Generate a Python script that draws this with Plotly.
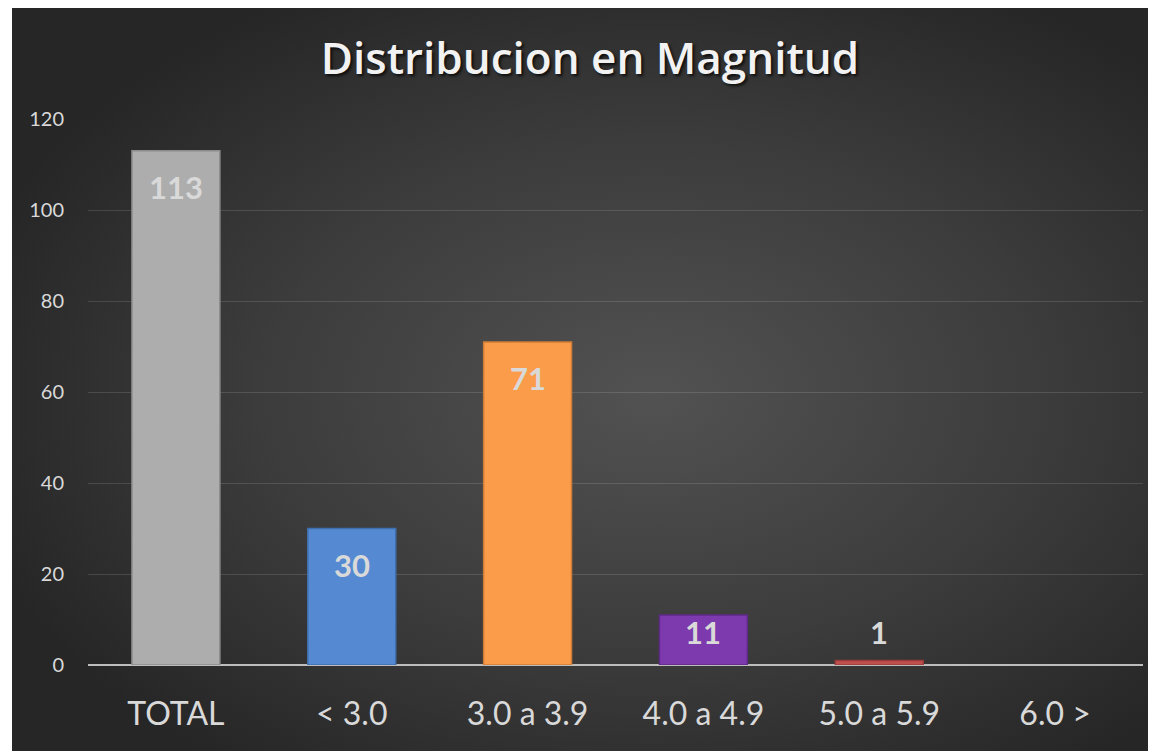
import base64
import plotly.graph_objects as go

# ---- data ----
categories = ["TOTAL", "< 3.0", "3.0 a 3.9", "4.0 a 4.9", "5.0 a 5.9", "6.0 >"]
values = [113, 30, 71, 11, 1, 0]
bar_colors = ["#adadad", "#558ad2", "#fb9c4b", "#7d3aae", "#c0504d", "#9bbb59"]
line_colors = ["#8c8c8c", "#3f6fae", "#d07c34", "#5f2a88", "#9a3b39", "#7c9846"]
y_ticks = [0, 20, 40, 60, 80, 100, 120]
title_text = "Distribucion en Magnitud"

# page has an 8px body margin; figure is sized/offset to compensate
W, H = 1148, 743
L, R, T, B = 80, 13, 111, 86
pw, ph = W - L - R, H - T - B

# background panel (radial gradient)
bx0, by0 = 4, 0
svg = f'''<svg xmlns="http://www.w3.org/2000/svg" width="{W-bx0}" height="{H-by0}" viewBox="0 0 {W-bx0} {H-by0}" preserveAspectRatio="none">
<defs><radialGradient id="g" cx="0.56" cy="0.52" r="0.62" gradientUnits="objectBoundingBox">
<stop offset="0" stop-color="#525252"/><stop offset="0.55" stop-color="#3c3c3c"/><stop offset="1" stop-color="#262626"/>
</radialGradient></defs>
<rect x="0" y="0" width="{W-bx0}" height="{H-by0}" fill="url(#g)"/></svg>'''
src = "data:image/svg+xml;base64," + base64.b64encode(svg.encode()).decode()

fig = go.Figure()
fig.add_trace(go.Bar(
    x=categories, y=values, width=0.5,
    marker=dict(color=bar_colors,
                line=dict(color=line_colors, width=[1.5 if v > 0 else 0 for v in values])),
    hoverinfo="x+y", showlegend=False,
))

label_floor = 15.2
for c, v in zip(categories, values):
    if v <= 0:
        continue
    fig.add_annotation(
        x=c, y=max(v, label_floor), yshift=-36, text=f"<b>{v}</b>",
        showarrow=False, yanchor="middle", xanchor="center",
        font=dict(family="Lato, Open Sans, sans-serif", size=31, color="#d9d9d9"),
    )

fig.add_layout_image(dict(
    source=src, xref="paper", yref="paper",
    x=(bx0 - L) / pw, y=(H - B - by0) / ph,
    sizex=(W - bx0) / pw, sizey=(H - by0) / ph,
    xanchor="left", yanchor="top", sizing="stretch", layer="below",
))

fig.update_layout(
    width=W, height=H,
    margin=dict(l=L, r=R, t=T, b=B, pad=0),
    paper_bgcolor="white", plot_bgcolor="rgba(0,0,0,0)",
    bargap=0.5,
    title=dict(
        text=title_text, x=582 / W, xanchor="center",
        y=1 - 51 / H, yanchor="middle", yref="container",
        font=dict(family="Open Sans, Lato, sans-serif", size=44, weight=600, color="#f2f2f2",
                  shadow="2px 2px 3px rgba(0,0,0,0.75)"),
    ),
    xaxis=dict(
        showgrid=False, zeroline=False, showline=False,
        ticks="outside", ticklen=21, tickcolor="rgba(0,0,0,0)",
        tickfont=dict(family="Lato, Open Sans, sans-serif", size=32, color="#d9d9d9"),
        fixedrange=True,
    ),
    yaxis=dict(
        range=[0, 120], tickvals=y_ticks, showgrid=True,
        gridcolor="rgba(255,255,255,0.13)", gridwidth=1,
        zeroline=True, zerolinecolor="#bdbdbd", zerolinewidth=2,
        showline=False,
        ticks="outside", ticklen=19, tickcolor="rgba(0,0,0,0)",
        tickfont=dict(family="Lato, Open Sans, sans-serif", size=20, color="#d9d9d9"),
        fixedrange=True,
    ),
)

fig.write_html("out.html")
